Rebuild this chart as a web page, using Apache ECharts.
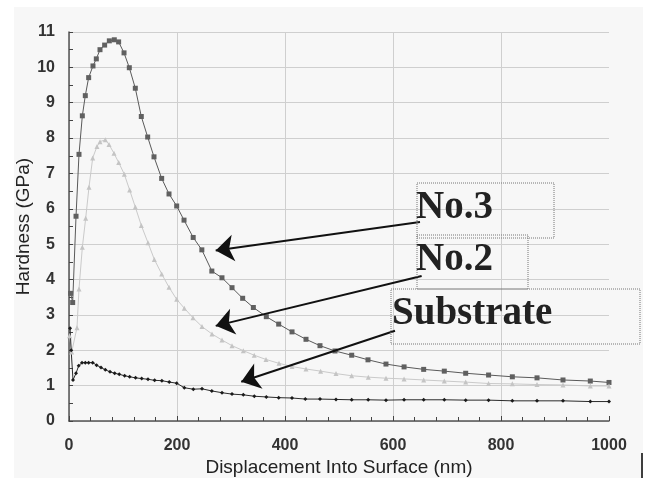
<!DOCTYPE html>
<html>
<head>
<meta charset="utf-8">
<script src="https://cdn.jsdelivr.net/npm/echarts@6/dist/echarts.min.js"></script>
<style>
  html, body { margin: 0; padding: 0; background: #ffffff; }
  #chart { width: 649px; height: 478px; }
</style>
</head>
<body>
<div id="chart"></div>
<script>
// displacement (nm) / hardness (GPa) pairs
const no3X = [3, 6.8, 13, 18.5, 24.7, 30.2, 36.4, 44.4, 50.6, 57.4, 66, 74.7, 83.9, 91.9, 101.9, 111.7, 122.8, 133.9, 145.7, 157.4, 171.6, 185.2, 199.4, 213, 230, 246, 264.5, 283.3, 301.9, 321.6, 341.4, 365.4, 388.3, 413, 438.9, 464.8, 492.6, 523.5, 553.7, 587, 620.5, 656.8, 695, 734.6, 777, 821, 866.7, 914.8, 965.4, 1000]
const no3Y = [3.61, 3.35, 5.79, 7.54, 8.63, 9.2, 9.71, 10.04, 10.24, 10.5, 10.63, 10.75, 10.78, 10.72, 10.41, 9.99, 9.41, 8.61, 8.03, 7.47, 6.86, 6.42, 6.08, 5.68, 5.19, 4.84, 4.24, 4.05, 3.77, 3.47, 3.21, 2.95, 2.74, 2.52, 2.31, 2.13, 1.98, 1.86, 1.73, 1.61, 1.53, 1.46, 1.41, 1.35, 1.3, 1.25, 1.22, 1.16, 1.13, 1.09]

const no2X = [1, 5, 14.8, 18.5, 24.7, 30.9, 37, 43.9, 51.8, 57.4, 67.2, 74.1, 83.3, 92, 102.4, 112.3, 122.8, 133.9, 146.3, 158, 171.6, 185.2, 199.4, 213.5, 229.6, 246.3, 264.8, 283.3, 301.9, 322.8, 343, 364.8, 388.9, 413, 438.9, 466, 494.4, 523.5, 554.3, 587, 620.5, 656.8, 695, 734.6, 777, 821, 866.7, 914.8, 965.4, 1000]
const no2Y = [2.41, 1.95, 2.64, 3.73, 4.91, 5.73, 6.61, 7.44, 7.76, 7.9, 7.95, 7.82, 7.57, 7.31, 6.98, 6.53, 6.05, 5.53, 5.04, 4.57, 4.16, 3.78, 3.44, 3.19, 2.92, 2.67, 2.46, 2.29, 2.13, 1.99, 1.86, 1.74, 1.63, 1.54, 1.47, 1.41, 1.34, 1.28, 1.24, 1.21, 1.19, 1.16, 1.13, 1.1, 1.06, 1.05, 1.03, 1.02, 0.99, 0.99]

const subX = [2, 4, 7.4, 13, 17.9, 24.1, 30.2, 36.4, 43.9, 51.2, 59.3, 67.2, 75.9, 84.6, 93.1, 103, 112.3, 123.3, 134.6, 146.3, 158.6, 172, 185.7, 199.4, 213.5, 230.2, 246.3, 264.5, 283.3, 301.9, 322.8, 343.2, 365.4, 388.3, 413, 437.6, 464.8, 494.4, 523.5, 554, 587, 620.5, 656.8, 695, 734.6, 777, 821, 866.7, 914.8, 965.4, 1000]
const subY = [2.62, 2.0, 1.16, 1.35, 1.56, 1.65, 1.65, 1.65, 1.65, 1.58, 1.51, 1.45, 1.39, 1.35, 1.32, 1.28, 1.25, 1.22, 1.2, 1.18, 1.15, 1.14, 1.1, 1.07, 0.94, 0.9, 0.91, 0.85, 0.8, 0.76, 0.74, 0.7, 0.68, 0.66, 0.65, 0.62, 0.62, 0.61, 0.6, 0.6, 0.59, 0.6, 0.6, 0.6, 0.59, 0.59, 0.57, 0.57, 0.57, 0.55, 0.55]

const xTicks = [0, 200, 400, 600, 800, 1000]
const yTicks = [0, 1, 2, 3, 4, 5, 6, 7, 8, 9, 10, 11]

// callout labels and where their arrows point (data space)
const calloutNames = ['No.3', 'No.2', 'Substrate']
const arrowFrom = [[650, 5.63], [653, 4.1], [603.7, 2.55]]
const arrowTo = [[271.7, 4.82], [271.7, 2.69], [319, 1.11]]

const pairs = (xs, ys) => xs.map((x, i) => [x, ys[i]])

const chart = echarts.init(document.getElementById('chart'))

const sans = 'Liberation Sans, Arial, sans-serif'
const tickText = { color: '#333', fontSize: 16, fontWeight: 'bold', fontFamily: sans }
const nameText = { color: '#222', fontSize: 19, fontFamily: sans }
const calloutFont = 'bold 39px "Liberation Serif", "Times New Roman", serif'
const boxStyle = { fill: 'none', stroke: '#777', lineWidth: 1, lineDash: [1, 1] }

chart.setOption({
  animation: false,
  backgroundColor: '#ffffff',
  grid: { left: 69, right: 40, top: 32, bottom: 57, outerBoundsMode: 'none' },
  xAxis: {
    type: 'value',
    min: xTicks[0],
    max: xTicks[xTicks.length - 1],
    interval: 200,
    name: 'Displacement Into Surface (nm)',
    nameLocation: 'middle',
    nameGap: 37,
    nameMoveOverlap: false,
    nameTextStyle: nameText,
    axisLine: { lineStyle: { color: '#555', width: 1.5 } },
    axisTick: { inside: true, length: 5, lineStyle: { color: '#444' } },
    minorTick: { show: true, splitNumber: 5, length: 4, lineStyle: { color: '#444' } },
    axisLabel: Object.assign({ margin: 17, formatter: v => String(v) }, tickText),
    splitLine: { show: true, lineStyle: { color: ['#cfcfcf', '#cfcfcf', '#cfcfcf', '#cfcfcf', '#cfcfcf', 'transparent'], width: 1 } }
  },
  yAxis: {
    type: 'value',
    min: yTicks[0],
    max: yTicks[yTicks.length - 1],
    interval: 1,
    name: 'Hardness (GPa)',
    nameLocation: 'middle',
    nameGap: 36,
    nameMoveOverlap: false,
    nameTextStyle: nameText,
    axisLine: { show: true, lineStyle: { color: '#555', width: 1.5 } },
    axisTick: { show: true, inside: true, length: 4, lineStyle: { color: '#444' } },
    minorTick: { show: true, splitNumber: 2, length: 4, lineStyle: { color: '#444' } },
    axisLabel: Object.assign({ margin: 14 }, tickText),
    splitLine: { show: true, lineStyle: { color: '#cfcfcf', width: 1 } }
  },
  graphic: [
    { type: 'rect', z: -10, shape: { x: 14, y: 7, width: 629, height: 471 }, style: { fill: '#f7f7f7' } },
    { type: 'rect', z: 10, shape: { x: 417, y: 183, width: 137, height: 55 }, style: boxStyle },
    { type: 'rect', z: 10, shape: { x: 417, y: 235, width: 111, height: 54 }, style: boxStyle },
    { type: 'rect', z: 10, shape: { x: 391, y: 289, width: 249, height: 55 }, style: boxStyle },
    { type: 'text', z: 11, left: 416, top: 188, style: { text: calloutNames[0], fill: '#222', font: calloutFont } },
    { type: 'text', z: 11, left: 416, top: 240, style: { text: calloutNames[1], fill: '#222', font: calloutFont } },
    { type: 'text', z: 11, left: 392, top: 294, style: { text: calloutNames[2], fill: '#222', font: calloutFont } },
    { type: 'line', z: 11, shape: { x1: 642, y1: 453, x2: 642, y2: 478 }, style: { stroke: '#000', lineWidth: 1.5 } }
  ],
  series: [
    {
      name: 'No.3',
      type: 'line',
      data: pairs(no3X, no3Y),
      symbol: 'rect',
      symbolSize: 5,
      showAllSymbol: true,
      lineStyle: { color: '#5a5a5a', width: 1 },
      itemStyle: { color: '#606060' }
    },
    {
      name: 'No.2',
      type: 'line',
      data: pairs(no2X, no2Y),
      symbol: 'triangle',
      symbolSize: 5,
      showAllSymbol: true,
      lineStyle: { color: '#cacaca', width: 1 },
      itemStyle: { color: '#c4c4c4' }
    },
    {
      name: 'Substrate',
      type: 'line',
      data: pairs(subX, subY),
      symbol: 'diamond',
      symbolSize: 4,
      showAllSymbol: true,
      lineStyle: { color: '#2a2a2a', width: 1 },
      itemStyle: { color: '#1a1a1a' },
      markLine: {
        silent: true,
        symbol: ['none', 'arrow'],
        symbolSize: [20, 18],
        label: { show: false },
        lineStyle: { color: '#111', width: 2, type: 'solid' },
        itemStyle: { color: '#111' },
        data: arrowFrom.map((p, i) => [{ coord: p }, { coord: arrowTo[i] }])
      }
    }
  ]
})
</script>
</body>
</html>
